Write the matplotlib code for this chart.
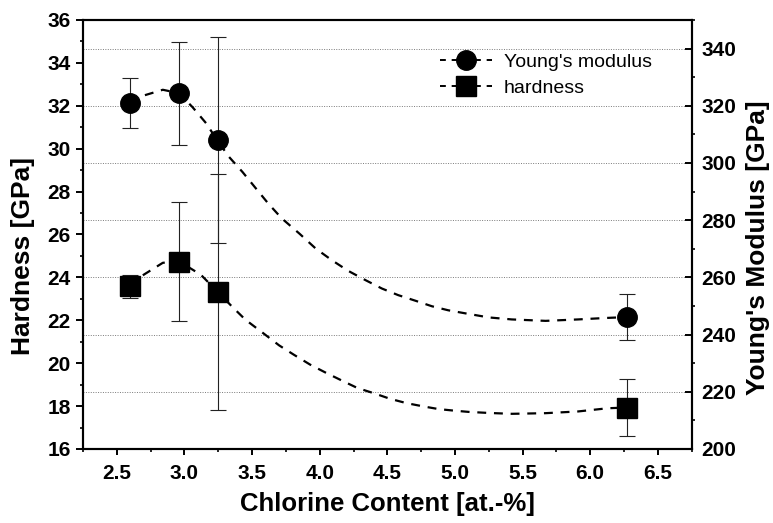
import matplotlib.pyplot as plt
from matplotlib.lines import Line2D
from matplotlib.ticker import MultipleLocator, FormatStrFormatter

# measured points
chlorine = [2.60, 2.96, 3.25, 6.27]
hardness = [23.58, 24.74, 23.31, 17.93]
hardness_err = [0.55, 2.78, 5.50, 1.32]
modulus = [320.9, 324.4, 308.1, 246.1]
modulus_err = [8.8, 18.0, 36.1, 8.0]

# dashed guide curves
modulus_fit_x = [2.60, 2.70, 2.84, 2.96, 3.06, 3.16, 3.24, 3.33, 3.43, 3.53, 3.62, 3.72, 3.85, 3.97, 4.09,
                 4.21, 4.34, 4.46, 4.58, 4.71, 4.83, 4.95, 5.08, 5.25, 5.42, 5.67, 5.91, 6.11, 6.26]
modulus_fit = [320.9, 323.6, 325.6, 324.4, 319.5, 313.9, 308.1, 302.1, 296.8, 291.0, 285.8, 280.6, 275.3, 270.1, 266.0,
               262.3, 259.0, 256.1, 253.8, 251.8, 249.9, 248.5, 247.4, 246.0, 245.3, 244.8, 245.3, 245.8, 246.1]

hardness_fit_x = [2.60, 2.70, 2.84, 2.96, 3.06, 3.12, 3.25, 3.35, 3.45, 3.58, 3.70, 3.81, 3.93, 4.05, 4.18,
                  4.28, 4.40, 4.52, 4.64, 4.77, 4.88, 4.99, 5.10, 5.25, 5.42, 5.67, 5.91, 6.13, 6.26]
hardness_fit = [23.58, 24.13, 24.68, 24.75, 24.36, 24.13, 23.30, 22.65, 22.03, 21.41, 20.83, 20.39, 19.93, 19.54, 19.14,
                18.84, 18.60, 18.34, 18.14, 17.98, 17.86, 17.79, 17.73, 17.68, 17.64, 17.67, 17.75, 17.90, 17.93]

plt.rcParams['font.family'] = ['Liberation Sans', 'DejaVu Sans']
plt.rcParams['font.weight'] = 'bold'

fig = plt.figure(figsize=(7.73, 5.23), dpi=100)
ax = fig.add_axes([0.1074, 0.1415, 0.7874, 0.8203])
ax2 = ax.twinx()

# hardness axis drawn above the modulus axis so the squares cover the grid
ax.set_zorder(ax2.get_zorder() + 1)
ax.patch.set_visible(False)

# Young's modulus on the right axis
ax2.plot(modulus_fit_x, modulus_fit, color='black', lw=1.6, dashes=(4, 3.5))
ax2.errorbar(chlorine, modulus, yerr=modulus_err, fmt='o', ms=14, color='black',
             ecolor='#222222', elinewidth=0.8, capsize=6, capthick=0.8, zorder=3)

# hardness on the left axis
ax.plot(hardness_fit_x, hardness_fit, color='black', lw=1.6, dashes=(4, 3.5))
ax.errorbar(chlorine, hardness, yerr=hardness_err, fmt='s', ms=13.7, color='black',
            ecolor='#222222', elinewidth=0.8, capsize=6, capthick=0.8, zorder=3)

ax.set_xlim(2.25, 6.75)
ax.set_ylim(16, 36)
ax2.set_ylim(200, 350)

ax.xaxis.set_major_locator(MultipleLocator(0.5))
ax.xaxis.set_minor_locator(MultipleLocator(0.25))
ax.xaxis.set_major_formatter(FormatStrFormatter('%.1f'))
ax.yaxis.set_major_locator(MultipleLocator(2))
ax.yaxis.set_minor_locator(MultipleLocator(1))
ax2.yaxis.set_minor_locator(MultipleLocator(10))
ax2.set_yticks([200, 220, 240, 260, 280, 300, 320, 340])

# dotted grid follows the modulus ticks
ax2.set_axisbelow(True)
ax2.yaxis.grid(True, linestyle=(0, (1, 1.5)), color='#7a7a7a', lw=0.7)

ax.tick_params(axis='x', which='major', direction='out', length=4.5, width=1.4, pad=6, labelsize=15)
ax.tick_params(axis='x', which='minor', direction='out', length=2.5, width=1.2)
ax.tick_params(axis='y', which='major', direction='out', length=5, width=1.4, pad=4, labelsize=15)
ax.tick_params(axis='y', which='minor', direction='out', length=2.5, width=1.2)
ax2.tick_params(axis='y', which='major', direction='in', length=5, width=1.4, pad=7, labelsize=15)
ax2.tick_params(axis='y', which='minor', direction='out', length=2.5, width=1.2)

for a in (ax, ax2):
    for sp in a.spines.values():
        sp.set_linewidth(1.5)

ax.set_xlabel('Chlorine Content [at.-%]', fontsize=18.5, fontweight='bold', labelpad=7)
ax.set_ylabel('Hardness [GPa]', fontsize=19, fontweight='bold')
ax.yaxis.set_label_coords(-0.079, 0.45)
ax2.set_ylabel("Young's Modulus [GPa]", fontsize=19, fontweight='bold')
ax2.yaxis.set_label_coords(1.09, 0.4685)

# legend: dashed line with marker
handles = [Line2D([], [], color='black', lw=1.4, dashes=(3, 3), marker='o', ms=14),
           Line2D([], [], color='black', lw=1.4, dashes=(3, 3), marker='s', ms=13.7)]
ax.legend(handles, ["Young's modulus", 'hardness'], loc='upper left', bbox_to_anchor=(0.5865, 0.923),
          frameon=False, borderpad=0, borderaxespad=0, handlelength=2.7, handletextpad=0.57,
          labelspacing=0.44, prop={'size': 14, 'weight': 'normal'})

fig.savefig('out.png', dpi=100)
